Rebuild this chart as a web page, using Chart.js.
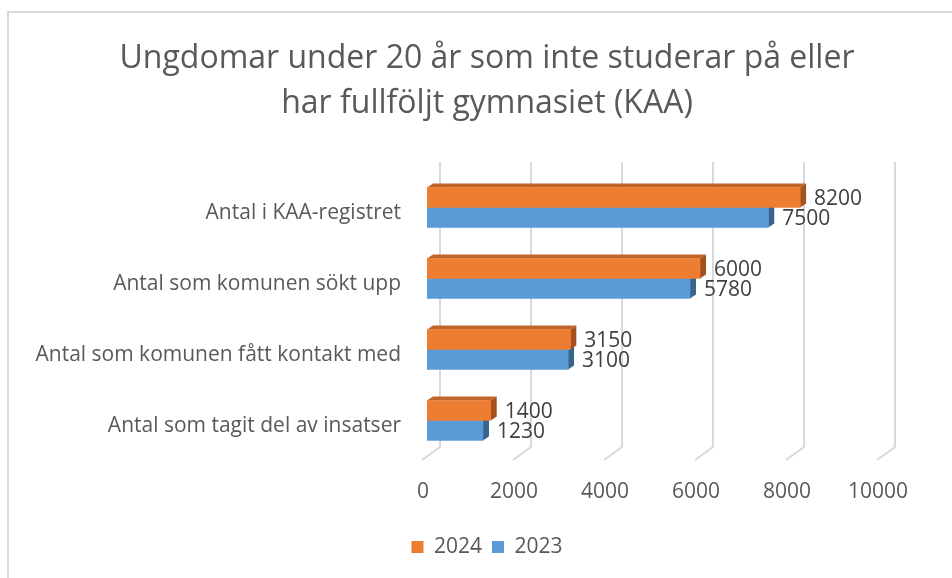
<!DOCTYPE html>
<html>
<head>
<meta charset="utf-8">
<script src="https://cdn.jsdelivr.net/npm/chart.js@4/dist/chart.umd.min.js"></script>
<style>
  html, body { margin: 0; padding: 0; background: #ffffff; }
  #wrap { position: relative; width: 952px; height: 578px; overflow: hidden; }
  #frame { position: absolute; left: 7px; top: 11px; width: 960px; height: 600px; border: 2px solid #d9d9d9; box-sizing: border-box; }
  canvas { position: absolute; left: 0; top: 0; }
</style>
</head>
<body>
<div id="wrap">
  <div id="frame"></div>
  <canvas id="c" width="952" height="578"></canvas>
</div>
<script>
const titleLines = ['Ungdomar under 20 år som inte studerar på eller', 'har fullföljt gymnasiet (KAA)'];
const categories = ['Antal i KAA-registret', 'Antal som komunen sökt upp', 'Antal som komunen fått kontakt med', 'Antal som tagit del av insatser'];
const seriesNames = ['2024', '2023'];
const values2024 = [8200, 6000, 3150, 1400];
const values2023 = [7500, 5780, 3100, 1230];
const xTicks = [0, 2000, 4000, 6000, 8000, 10000];

const FONT = "'Open Sans', 'Noto Sans', sans-serif";
const TEXT = '#595959';
const DEPTH_X = 6, DEPTH_Y = 4;
const GRID_DX = 13, GRID_FLOOR_DX = -18, GRID_FLOOR_DY = 13;

const styles = [
  { front: '#ED7D31', top: '#c0652a', side: '#a4511e' },
  { front: '#5B9BD5', top: '#4a80b3', side: '#35658f' }
];

const threeD = {
  id: 'threeD',
  beforeDatasetsDraw(chart) {
    const ctx = chart.ctx;
    const xs = chart.scales.x;
    const area = chart.chartArea;
    ctx.save();
    ctx.strokeStyle = '#d9d9d9';
    ctx.lineWidth = 2;
    const yTop = area.top - 10;
    const yBack = area.bottom - 9;
    xTicks.forEach(v => {
      const xb = xs.getPixelForValue(v) + GRID_DX;
      ctx.beginPath();
      ctx.moveTo(xb, yTop);
      ctx.lineTo(xb, yBack);
      ctx.lineTo(xb + GRID_FLOOR_DX, yBack + GRID_FLOOR_DY);
      ctx.stroke();
    });
    ctx.restore();
    for (let d = chart.data.datasets.length - 1; d >= 0; d--) {
      const meta = chart.getDatasetMeta(d);
      const st = styles[d];
      meta.data.forEach(bar => {
        const p = bar.getProps(['x', 'y', 'base', 'height'], true);
        const x0 = p.base, x1 = p.x;
        const y0 = p.y - p.height / 2, y1 = p.y + p.height / 2;
        ctx.save();
        ctx.fillStyle = st.top;
        ctx.beginPath();
        ctx.moveTo(x0, y0);
        ctx.lineTo(x0 + DEPTH_X, y0 - DEPTH_Y);
        ctx.lineTo(x1 + DEPTH_X, y0 - DEPTH_Y);
        ctx.lineTo(x1, y0);
        ctx.closePath();
        ctx.fill();
        ctx.fillStyle = st.side;
        ctx.beginPath();
        ctx.moveTo(x1, y0);
        ctx.lineTo(x1 + DEPTH_X, y0 - DEPTH_Y);
        ctx.lineTo(x1 + DEPTH_X, y1 - DEPTH_Y);
        ctx.lineTo(x1, y1);
        ctx.closePath();
        ctx.fill();
        ctx.restore();
      });
    }
  },
  afterDatasetsDraw(chart) {
    const ctx = chart.ctx;
    ctx.save();
    ctx.font = '21px ' + FONT;
    ctx.fillStyle = '#404040';
    ctx.textAlign = 'left';
    ctx.textBaseline = 'middle';
    chart.data.datasets.forEach((ds, d) => {
      const meta = chart.getDatasetMeta(d);
      meta.data.forEach((bar, i) => {
        const p = bar.getProps(['x', 'y'], true);
        ctx.fillText(String(ds.data[i]), p.x + 14, p.y + 2);
      });
    });
    ctx.restore();
  }
};

new Chart(document.getElementById('c'), {
  type: 'bar',
  data: {
    labels: categories,
    datasets: [
      { label: seriesNames[0], data: values2024, backgroundColor: styles[0].front, barThickness: 20 },
      { label: seriesNames[1], data: values2023, backgroundColor: styles[1].front, barThickness: 20 }
    ]
  },
  options: {
    indexAxis: 'y',
    responsive: false,
    animation: false,
    events: [],
    layout: { padding: { left: 22, right: 0, top: 0, bottom: 10.5 } },
    scales: {
      x: {
        min: 0, max: 10000,
        afterBuildTicks: s => { s.ticks = xTicks.map(v => ({ value: v })); },
        grid: { display: false, drawTicks: false },
        border: { display: false },
        ticks: { color: TEXT, font: { family: FONT, size: 21 }, padding: 23, labelOffset: -4, maxRotation: 0,
                 callback: v => String(v) },
        afterFit: s => { s.height = 70.5; }
      },
      y: {
        grid: { display: false, drawTicks: false },
        border: { display: false },
        ticks: { color: TEXT, font: { family: FONT, size: 21 }, padding: 26, labelOffset: 6 },
        afterFit: s => { s.width = 405; }
      },
      yRight: {
        type: 'category',
        position: 'right',
        display: true,
        grid: { display: false, drawTicks: false },
        border: { display: false },
        ticks: { display: false },
        afterFit: s => { s.width = 70; }
      }
    },
    plugins: {
      title: {
        display: true,
        text: titleLines,
        color: TEXT,
        font: { family: FONT, size: 32, weight: 'normal', lineHeight: 1.4 },
        padding: { top: 36.5, bottom: 45.9 }
      },
      legend: {
        position: 'bottom',
        labels: { color: TEXT, font: { family: FONT, size: 21 }, boxWidth: 12, boxHeight: 12, padding: 10 }
      },
      tooltip: { enabled: false }
    }
  },
  plugins: [threeD]
});
</script>
</body>
</html>
